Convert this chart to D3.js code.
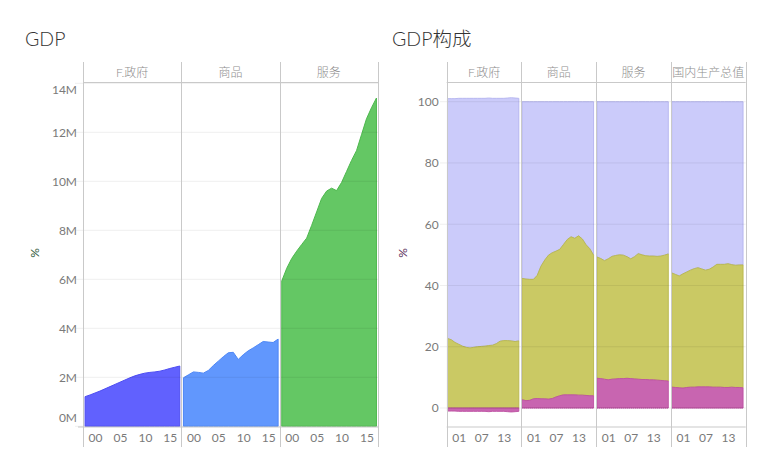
<!DOCTYPE html>
<html><head><meta charset="utf-8">
<script src="https://cdn.jsdelivr.net/npm/d3@7"></script>
<style>
body{margin:0;background:#fff}
svg{display:block}
text{font-family:Lato,"Noto Sans CJK SC",sans-serif}
</style>
</head><body>
<svg id="c" width="771" height="476"></svg>
<script>
// ---------- data ----------
const years = [1998,1999,2000,2001,2002,2003,2004,2005,2006,2007,2008,2009,2010,2011,2012,2013,2014,2015,2016,2017];

// Left chart: GDP (millions)
const gdpCategories = ["F.政府","商品","服务"];
const gdpGov      = [1.21,1.28,1.36,1.44,1.53,1.62,1.71,1.80,1.89,1.98,2.06,2.12,2.17,2.20,2.22,2.25,2.30,2.36,2.41,2.46];
const gdpGoods    = [1.98,2.10,2.22,2.20,2.17,2.28,2.48,2.66,2.84,3.00,3.02,2.73,2.92,3.08,3.20,3.33,3.46,3.44,3.42,3.56];
const gdpServices = [5.93,6.45,6.85,7.15,7.42,7.68,8.20,8.75,9.30,9.60,9.72,9.62,9.95,10.40,10.85,11.25,11.90,12.55,13.00,13.40];
const gdpYTicks = [0,2,4,6,8,10,12,14];
const gdpXTicks = [2000,2005,2010,2015];

// Right chart: GDP composition (%), three stacked layers per category
const compCategories = ["F.政府","商品","服务","国内生产总值"];
const compLayer1 = [ // bottom layer
  [-1.0,-1.0,-1.0,-1.1,-1.1,-1.1,-1.1,-1.1,-1.1,-1.1,-1.1,-1.2,-1.1,-1.1,-1.1,-1.1,-1.2,-1.3,-1.2,-1.1],
  [2.7,2.4,2.5,3.0,3.1,3.0,3.0,2.9,3.1,3.6,4.0,4.3,4.3,4.3,4.3,4.2,4.2,4.1,4.0,4.0],
  [9.7,9.6,9.4,9.2,9.4,9.5,9.6,9.6,9.7,9.6,9.5,9.4,9.3,9.3,9.2,9.2,9.1,9.0,8.9,8.8],
  [6.8,6.7,6.6,6.5,6.7,6.8,6.8,6.9,6.9,6.9,6.9,6.8,6.8,6.8,6.7,6.7,6.8,6.7,6.7,6.6]
];
const compLayer2 = [ // middle layer
  [22.7,22.3,21.4,20.8,20.2,19.8,19.6,19.8,20.0,20.1,20.2,20.4,20.5,21.0,21.8,22.0,22.0,21.9,21.7,21.9],
  [39.6,39.7,39.5,39.0,40.2,43.3,45.3,47.0,47.6,47.6,47.8,49.1,50.7,51.6,51.1,52.0,51.0,49.2,48.0,45.9],
  [39.6,39.2,38.7,39.5,40.1,40.3,40.4,40.3,39.7,39.1,39.9,41.0,40.7,40.4,40.4,40.4,40.4,40.6,41.0,41.5],
  [37.3,36.9,36.5,37.3,37.7,38.2,38.7,38.9,38.5,38.1,38.4,39.2,40.1,40.1,40.2,40.4,40.0,39.9,40.0,40.1]
];
const compLayer3 = [ // top layer
  [78.3,78.7,79.6,80.3,80.9,81.3,81.5,81.3,81.1,81.0,80.9,80.8,80.6,80.1,79.3,79.1,79.2,79.4,79.5,79.2],
  [57.7,57.9,58.0,58.0,56.7,53.7,51.7,50.1,49.3,48.8,48.2,46.6,45.0,44.1,44.6,43.8,44.8,46.7,48.0,50.1],
  [50.7,51.2,51.9,51.3,50.5,50.2,50.0,50.1,50.6,51.3,50.6,49.6,50.0,50.3,50.4,50.4,50.5,50.4,50.1,49.7],
  [55.9,56.4,56.9,56.2,55.6,55.0,54.5,54.2,54.6,55.0,54.7,54.0,53.1,53.1,53.1,52.9,53.2,53.4,53.3,53.3]
];
const compYTicks = [0,20,40,60,80,100];
const compXTicks = [2001,2007,2013];

// ---------- drawing ----------
const svg = d3.select("#c");
svg.append("rect").attr("width",771).attr("height",476).attr("fill","#fff");
const borderCol = "#c9c9c9";
const tickCol = "#7a7a7a";
const headerCol = "#8e8e8e";

function yearLabel(d){ return String(d % 100).padStart(2,"0"); }

// ===== Left chart =====
{
  const x0 = 83, pw = 98.33, hTop = 62, hBot = 82.5, axisY = 427, axisBottom = 447;
  const xEnd = x0 + pw*gdpCategories.length;
  const y = d3.scaleLinear().domain([0,14]).range([426.3,83.3]);
  const series = [gdpGov, gdpGoods, gdpServices];
  const fills = ["#6161fe","#6197fd","#64c764"];
  const strokes = ["#4c4cf2","#4d87f6","#4cb84c"];

  svg.append("text").attr("x",25).attr("y",46).attr("font-size",19.5).attr("font-weight",300)
     .attr("fill","#333").text("GDP");

  gdpCategories.forEach((cat,i)=>{
    const px = x0 + i*pw;
    const x = d3.scaleLinear().domain([1997.58,2017.31]).range([px, px+pw]);
    const area = d3.area().x((d,j)=>x(years[j])).y0(y(0)).y1(d=>y(d));
    svg.append("path").datum(series[i]).attr("d",area)
      .attr("fill",fills[i]).attr("stroke",strokes[i]).attr("stroke-width",1).attr("stroke-linejoin","round");
    const gx = svg.append("g").attr("transform",`translate(0,${axisY})`)
      .call(d3.axisBottom(x).tickValues(gdpXTicks).tickFormat(yearLabel).tickSize(0).tickPadding(6));
    gx.select(".domain").remove();
    gx.selectAll("text").attr("font-size",12).attr("fill",tickCol).attr("font-family",'Lato,sans-serif');
    svg.append("text").attr("x",px+pw/2).attr("y",77).attr("text-anchor","middle")
      .attr("font-size",12).attr("font-weight",300).attr("fill",headerCol).text(cat);
  });

  gdpYTicks.forEach(t=>{
    svg.append("line").attr("x1",75).attr("x2",xEnd).attr("y1",y(t)).attr("y2",y(t))
      .attr("stroke","rgba(0,0,0,0.065)");
  });
  const gy = svg.append("g").attr("transform",`translate(${x0},0)`)
    .call(d3.axisLeft(y).tickValues(gdpYTicks).tickFormat(d=>d+"M").tickSize(0).tickPadding(6));
  gy.select(".domain").remove();
  gy.selectAll("text").attr("font-size",12).attr("fill",tickCol).attr("font-family",'Lato,sans-serif');
  gy.selectAll(".tick").filter(d=>d===14).attr("transform",`translate(0,${y(14)+7})`);
  gy.selectAll(".tick").filter(d=>d===0).attr("transform",`translate(0,${y(0)-8})`);

  for(let i=0;i<=gdpCategories.length;i++){
    const bx = Math.round(x0 + i*pw) + 0.5;
    svg.append("line").attr("x1",bx).attr("x2",bx).attr("y1",hTop).attr("y2",axisBottom).attr("stroke",borderCol);
  }
  svg.append("line").attr("x1",x0).attr("x2",xEnd).attr("y1",hBot).attr("y2",hBot).attr("stroke",borderCol);
  svg.append("line").attr("x1",78).attr("x2",xEnd).attr("y1",axisY).attr("y2",axisY).attr("stroke",borderCol);

  svg.append("text").attr("transform",`translate(39,253) rotate(-90)`).attr("text-anchor","middle")
    .attr("font-size",12).attr("fill","#2f5a3a").text("%");
}

// ===== Right chart =====
{
  const x0 = 446.7, pw = 74.75, hTop = 62, hBot = 82.5, axisY = 427, axisBottom = 447;
  const xEnd = x0 + pw*compCategories.length;
  const y = d3.scaleLinear().domain([0,100]).range([408,101.7]);
  const fills = ["#c865b0","#cac964","#cbcbfa"];
  const strokes = ["#bd50a2","#b8b74c","#b3b3ee"];

  svg.append("text").attr("x",392).attr("y",46).attr("font-size",19.5).attr("font-weight",300)
     .attr("fill","#333").text("GDP构成");

  compCategories.forEach((cat,i)=>{
    const px = x0 + i*pw;
    const x = d3.scaleLinear().domain([1997.8,2017.7]).range([px, px+pw]);
    const rows = years.map((yr,j)=>({yr, a:compLayer1[i][j], b:compLayer2[i][j], c:compLayer3[i][j]}));
    const stacked = d3.stack().keys(["a","b","c"]).offset(d3.stackOffsetDiverging)(rows);
    const area = d3.area().x(d=>x(d.data.yr)).y0(d=>y(d[0])).y1(d=>y(d[1]));
    [2,1,0].forEach(k=>{
      svg.append("path").datum(stacked[k]).attr("d",area)
        .attr("fill",fills[k]).attr("stroke",strokes[k]).attr("stroke-width",0.9).attr("stroke-linejoin","round");
    });
    svg.append("line").attr("x1",x(years[0])).attr("x2",x(years[years.length-1]))
      .attr("y1",y(0)).attr("y2",y(0)).attr("stroke","#b04a98").attr("stroke-dasharray","1,1").attr("stroke-width",0.8);

    const gx = svg.append("g").attr("transform",`translate(0,${axisY})`)
      .call(d3.axisBottom(x).tickValues(compXTicks).tickFormat(yearLabel).tickSize(0).tickPadding(6));
    gx.select(".domain").remove();
    gx.selectAll("text").attr("font-size",12).attr("fill",tickCol).attr("font-family",'Lato,sans-serif');

    svg.append("text").attr("x",px+pw/2).attr("y",77).attr("text-anchor","middle")
      .attr("font-size",12).attr("font-weight",300).attr("fill",headerCol).text(cat);
  });

  compYTicks.forEach(t=>{
    svg.append("line").attr("x1",440).attr("x2",xEnd).attr("y1",y(t)).attr("y2",y(t))
      .attr("stroke","rgba(0,0,0,0.065)");
  });
  const gy = svg.append("g").attr("transform",`translate(${x0},0)`)
    .call(d3.axisLeft(y).tickValues(compYTicks).tickSize(0).tickPadding(8));
  gy.select(".domain").remove();
  gy.selectAll("text").attr("font-size",12).attr("fill",tickCol).attr("font-family",'Lato,sans-serif');

  for(let i=0;i<=compCategories.length;i++){
    const bx = Math.round(x0 + i*pw) + 0.5;
    svg.append("line").attr("x1",bx).attr("x2",bx).attr("y1",hTop).attr("y2",axisBottom).attr("stroke",borderCol);
  }
  svg.append("line").attr("x1",x0).attr("x2",xEnd).attr("y1",hBot).attr("y2",hBot).attr("stroke",borderCol);
  svg.append("line").attr("x1",x0).attr("x2",xEnd).attr("y1",axisY).attr("y2",axisY).attr("stroke",borderCol);

  svg.append("text").attr("transform",`translate(407,253) rotate(-90)`).attr("text-anchor","middle")
    .attr("font-size",12).attr("fill","#5a2f5a").text("%");
}
</script>
</body></html>
